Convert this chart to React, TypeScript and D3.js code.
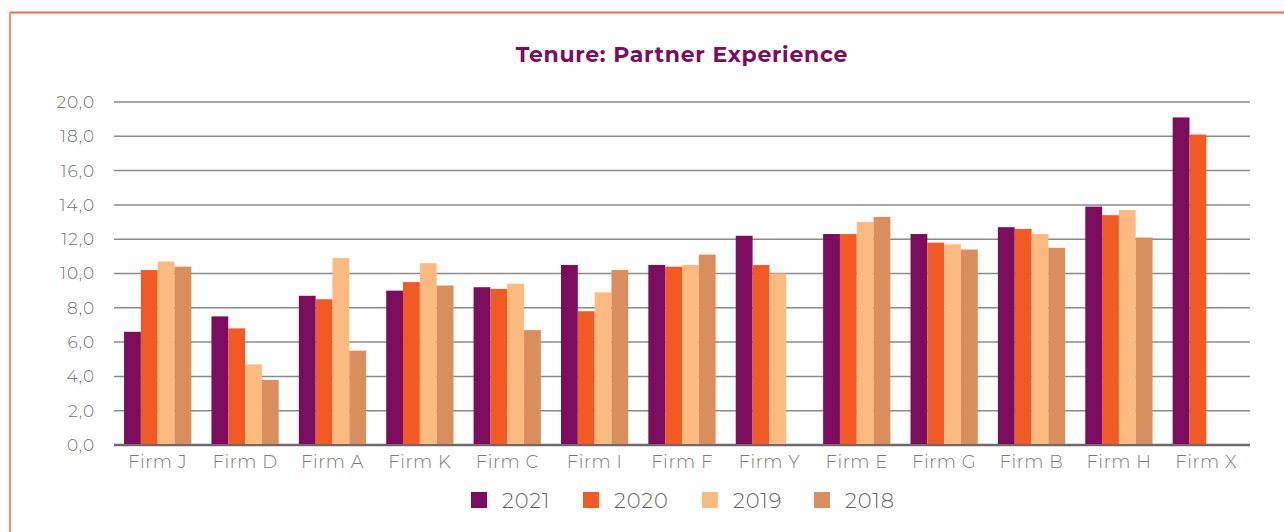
import React from "react";
import * as d3 from "d3";

const categories = ["Firm J", "Firm D", "Firm A", "Firm K", "Firm C", "Firm I", "Firm F", "Firm Y", "Firm E", "Firm G", "Firm B", "Firm H", "Firm X"];
const seriesNames = ["2021", "2020", "2019", "2018"];
const values2021 = [6.6, 7.5, 8.7, 9.0, 9.2, 10.5, 10.5, 12.2, 12.3, 12.3, 12.7, 13.9, 19.1];
const values2020 = [10.2, 6.8, 8.5, 9.5, 9.1, 7.8, 10.4, 10.5, 12.3, 11.8, 12.6, 13.4, 18.1];
const values2019 = [10.7, 4.7, 10.9, 10.6, 9.4, 8.9, 10.5, 10.0, 13.0, 11.7, 12.3, 13.7, null];
const values2018 = [10.4, 3.8, 5.5, 9.3, 6.7, 10.2, 11.1, null, 13.3, 11.4, 11.5, 12.1, null];
const yTicks = [0, 2, 4, 6, 8, 10, 12, 14, 16, 18, 20];

const colors = ["#7B0C5E", "#F15A22", "#FBBA7F", "#D88E5D"];
const allSeries = [values2021, values2020, values2019, values2018];

export default function App() {
  const W = 1284, H = 532;
  const left = 114, right = 1250, top = 102, bottom = 445;
  const x0 = d3.scaleBand<string>().domain(categories).range([left, right]).paddingInner(0.23).paddingOuter(0.115);
  const x1 = d3.scaleBand<string>().domain(seriesNames).range([0, x0.bandwidth()]);
  const y = d3.scaleLinear().domain([0, 20]).range([bottom, top]);
  const font = "Montserrat, 'Noto Sans', sans-serif";

  const legendX = [471, 583, 702, 814];

  return (
    <svg width={W} height={H} style={{ position: "absolute", left: 0, top: 0 }}>
      <rect x={0} y={0} width={W} height={H} fill="#fff" />
      <line x1={10} y1={12.5} x2={W} y2={12.5} stroke="#F26B3A" strokeWidth={2} />
      <line x1={10} y1={12} x2={10} y2={H} stroke="#F7905E" strokeWidth={2} />
      <text x={682} y={62} textAnchor="middle" fontFamily={font} fontWeight={700} fontSize={22} letterSpacing={0.7} fill="#7B0C5E">
        Tenure: Partner Experience
      </text>
      {yTicks.map((t) => (
        <g key={t}>
          <line x1={left} x2={right} y1={y(t)} y2={y(t)} stroke={t === 0 ? "#6b6b6b" : "#8a8a8a"} strokeWidth={t === 0 ? 2.5 : 1.5} />
          <text x={95} y={y(t)} dy="0.35em" textAnchor="end" fontFamily={font} fontWeight={300} fontSize={17} letterSpacing={0.9} fill="#6f6f6f">
            {d3.format(".1f")(t).replace(".", ",")}
          </text>
        </g>
      ))}
      {categories.map((c, i) => (
        <g key={c} transform={`translate(${x0(c)},0)`}>
          {allSeries.map((s, j) => {
            const v = s[i];
            if (v == null) return null;
            return (
              <rect key={j} x={x1(seriesNames[j])} y={y(v)} width={x1.bandwidth()} height={y(0) - y(v) - 1} fill={colors[j]} />
            );
          })}
        </g>
      ))}
      {categories.map((c) => (
        <text key={c} x={(x0(c) as number) + x0.bandwidth() / 2} y={468} textAnchor="middle" fontFamily={font} fontWeight={300} fontSize={18} letterSpacing={0.6} fill="#7a7a7a">
          {c}
        </text>
      ))}
      {seriesNames.map((s, j) => (
        <g key={s}>
          <rect x={legendX[j]} y={492} width={16} height={16} fill={colors[j]} />
          <text x={legendX[j] + 31} y={500} dy="0.36em" fontFamily={font} fontWeight={300} fontSize={21} letterSpacing={0.9} fill="#666">
            {s}
          </text>
        </g>
      ))}
    </svg>
  );
}
